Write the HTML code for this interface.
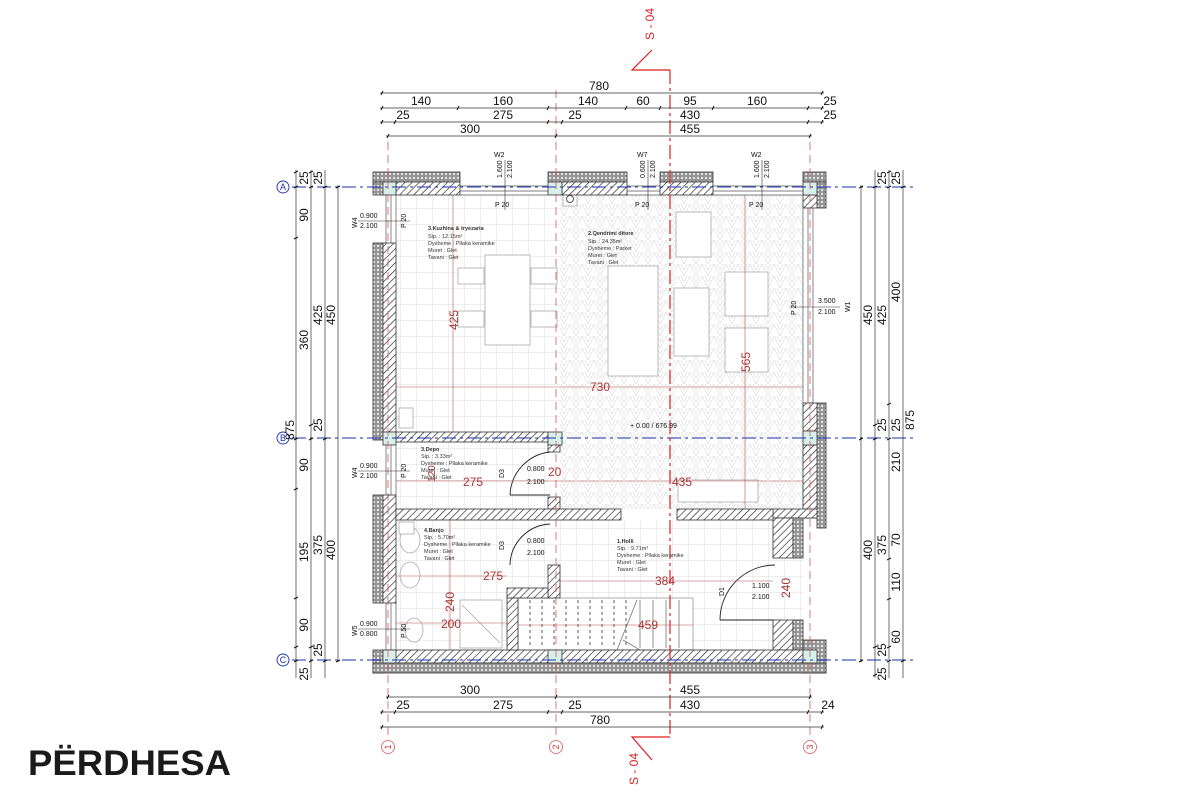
<!DOCTYPE html>
<html><head><meta charset="utf-8"><style>
html,body{margin:0;padding:0;background:#fff;}
svg{display:block;font-family:"Liberation Sans",sans-serif;}
</style></head><body>
<svg width="1200" height="800" viewBox="0 0 1200 800" xmlns="http://www.w3.org/2000/svg">
<defs>
<pattern id="hatch" width="5" height="5" patternUnits="userSpaceOnUse" patternTransform="rotate(45)">
<rect width="5" height="5" fill="#fff"/><line x1="0" y1="0" x2="0" y2="5" stroke="#222" stroke-width="1.3"/></pattern>
<pattern id="ins" width="4" height="4" patternUnits="userSpaceOnUse">
<rect width="4" height="4" fill="#959595"/><circle cx="2" cy="2" r="1.1" fill="#ececec"/></pattern>
<pattern id="tile" width="16" height="16" patternUnits="userSpaceOnUse">
<rect width="16" height="16" fill="#fff"/><path d="M0 0H16M0 0V16" stroke="#dcdcdc" stroke-width="1"/></pattern>
<pattern id="herr" width="12" height="12" patternUnits="userSpaceOnUse">
<rect width="12" height="12" fill="#fff"/><path d="M0 12L6 0L12 12M0 6L3 0M9 0L12 6" stroke="#e0e0e0" stroke-width="0.8" fill="none"/></pattern>
</defs>

<rect x="396" y="195" width="164" height="237" fill="url(#tile)"/>
<rect x="560" y="195" width="243" height="314" fill="url(#herr)"/>
<rect x="396" y="442" width="152" height="67" fill="url(#tile)"/>
<rect x="396" y="520" width="407" height="130" fill="url(#tile)"/>

<g fill="#fff" stroke="#aaa" stroke-width="0.8">
<rect x="485" y="255" width="45" height="90"/>
<rect x="458" y="268" width="26" height="16"/><rect x="458" y="311" width="26" height="16"/>
<rect x="531" y="268" width="26" height="16"/><rect x="531" y="311" width="26" height="16"/>
<rect x="608" y="266" width="50" height="110"/>
<rect x="676" y="212" width="35" height="45"/>
<rect x="674" y="288" width="35" height="68"/>
<rect x="725" y="272" width="43" height="44"/><rect x="725" y="328" width="43" height="44"/>
<rect x="678" y="480" width="80" height="22"/>
<rect x="460" y="600" width="42" height="48"/>
<ellipse cx="410" cy="540" rx="10" ry="13"/><ellipse cx="410" cy="575" rx="10" ry="13"/>
<ellipse cx="414" cy="630" rx="9" ry="12"/>
<rect x="399" y="408" width="14" height="20"/><rect x="399" y="522" width="15" height="12"/>
<rect x="563" y="192" width="14" height="14"/>
</g>
<circle cx="570" cy="199" r="3.5" fill="none" stroke="#555"/>
<line x1="462" y1="605" x2="500" y2="643" stroke="#aaa" stroke-width="0.8"/>

<rect x="518" y="598" width="175" height="52" fill="#fff" stroke="#999" stroke-width="0.8"/>
<g stroke="#333" stroke-width="0.8" stroke-dasharray="3,3">
<line x1="530" y1="600" x2="530" y2="648"/><line x1="542" y1="600" x2="542" y2="648"/><line x1="554" y1="600" x2="554" y2="648"/><line x1="566" y1="600" x2="566" y2="648"/><line x1="578" y1="600" x2="578" y2="648"/><line x1="590" y1="600" x2="590" y2="648"/><line x1="602" y1="600" x2="602" y2="648"/><line x1="614" y1="600" x2="614" y2="648"/><line x1="626" y1="600" x2="626" y2="648"/>
</g>
<g stroke="#777" stroke-width="0.8">
<line x1="640" y1="600" x2="640" y2="648"/><line x1="653" y1="600" x2="653" y2="648"/><line x1="666" y1="600" x2="666" y2="648"/><line x1="679" y1="600" x2="679" y2="648"/>
<line x1="637" y1="600" x2="617" y2="650"/><line x1="623" y1="640" x2="640" y2="650"/>
</g>

<g stroke="#333" stroke-width="0.8">
<rect x="373" y="172" width="87" height="10" fill="url(#ins)"/><rect x="548" y="172" width="79" height="10" fill="url(#ins)"/>
<rect x="660" y="172" width="53" height="10" fill="url(#ins)"/><rect x="803" y="172" width="23" height="10" fill="url(#ins)"/>
<rect x="396" y="182" width="64" height="13" fill="url(#hatch)"/><rect x="562" y="182" width="65" height="13" fill="url(#hatch)"/>
<rect x="660" y="182" width="53" height="13" fill="url(#hatch)"/>
<rect x="373" y="182" width="10" height="13" fill="url(#ins)"/>
<rect x="373" y="243" width="10" height="197" fill="url(#ins)"/><rect x="383" y="243" width="13" height="189" fill="url(#hatch)"/>
<rect x="373" y="495" width="10" height="108" fill="url(#ins)"/><rect x="383" y="495" width="13" height="108" fill="url(#hatch)"/>
<rect x="373" y="650" width="10" height="23" fill="url(#ins)"/>
<rect x="817" y="182" width="9" height="26" fill="url(#ins)"/><rect x="803" y="195" width="14" height="13" fill="url(#hatch)"/>
<rect x="817" y="403" width="9" height="125" fill="url(#ins)"/><rect x="803" y="403" width="14" height="28" fill="url(#hatch)"/>
<rect x="803" y="445" width="14" height="73" fill="url(#hatch)"/>
<rect x="773" y="509" width="44" height="9" fill="url(#hatch)"/>
<rect x="773" y="518" width="20" height="40" fill="url(#hatch)"/><rect x="793" y="518" width="10" height="40" fill="url(#ins)"/>
<rect x="773" y="620" width="20" height="30" fill="url(#hatch)"/><rect x="793" y="620" width="10" height="30" fill="url(#ins)"/>
<rect x="803" y="640" width="23" height="33" fill="url(#ins)"/>
<rect x="383" y="650" width="420" height="13" fill="url(#hatch)"/>
<rect x="373" y="663" width="453" height="10" fill="url(#ins)"/>
<rect x="396" y="432" width="152" height="10" fill="url(#hatch)"/>
<rect x="548" y="442" width="12" height="10" fill="url(#hatch)"/>
<rect x="548" y="497" width="12" height="12" fill="url(#hatch)"/>
<rect x="396" y="509" width="225" height="11" fill="url(#hatch)"/>
<rect x="677" y="509" width="96" height="11" fill="url(#hatch)"/>
<rect x="548" y="565" width="12" height="33" fill="url(#hatch)"/>
<rect x="507" y="588" width="41" height="10" fill="url(#hatch)"/>
<rect x="507" y="598" width="11" height="52" fill="url(#hatch)"/>
</g>
<g fill="#d8f0ec" stroke="#333" stroke-width="0.8">
<rect x="383" y="182" width="13" height="13"/><rect x="548" y="182" width="14" height="13"/><rect x="803" y="182" width="14" height="13"/>
<rect x="383" y="432" width="13" height="13"/><rect x="548" y="432" width="14" height="13"/><rect x="803" y="431" width="14" height="14"/>
<rect x="383" y="650" width="13" height="13"/><rect x="548" y="650" width="14" height="13"/><rect x="803" y="650" width="14" height="13"/>
</g>
<g stroke="#555" stroke-width="0.7">
<line x1="460" y1="186" x2="548" y2="186"/><line x1="460" y1="191" x2="548" y2="191"/><line x1="460" y1="195" x2="548" y2="195"/>
<line x1="627" y1="186" x2="660" y2="186"/><line x1="627" y1="191" x2="660" y2="191"/><line x1="627" y1="195" x2="660" y2="195"/>
<line x1="713" y1="186" x2="803" y2="186"/><line x1="713" y1="191" x2="803" y2="191"/><line x1="713" y1="195" x2="803" y2="195"/>
<line x1="386" y1="195" x2="386" y2="243"/><line x1="391" y1="195" x2="391" y2="243"/><line x1="396" y1="195" x2="396" y2="243"/>
<line x1="386" y1="445" x2="386" y2="495"/><line x1="391" y1="445" x2="391" y2="495"/><line x1="396" y1="445" x2="396" y2="495"/>
<line x1="386" y1="603" x2="386" y2="650"/><line x1="391" y1="603" x2="391" y2="650"/><line x1="396" y1="603" x2="396" y2="650"/>
<line x1="803" y1="208" x2="803" y2="403"/><line x1="808" y1="208" x2="808" y2="403"/><line x1="813" y1="208" x2="813" y2="403"/>
</g>
<g fill="none" stroke="#222" stroke-width="0.9">
<path d="M550 452 A45 45 0 0 0 510 495"/><line x1="510" y1="495" x2="550" y2="495"/>
<path d="M550 524 A42 42 0 0 0 510 565"/>
<path d="M775 565 A55 55 0 0 0 720 620"/><line x1="720" y1="620" x2="773" y2="620"/>
</g>

<g stroke="#b55" stroke-width="0.6">
<line x1="453" y1="195" x2="453" y2="432"/><line x1="396" y1="387" x2="803" y2="387"/><line x1="745" y1="195" x2="745" y2="509"/>
<line x1="396" y1="481" x2="560" y2="481"/><line x1="560" y1="481" x2="803" y2="481"/><line x1="396" y1="576" x2="507" y2="576"/>
<line x1="560" y1="581" x2="773" y2="581"/><line x1="450" y1="520" x2="450" y2="650"/><line x1="396" y1="623" x2="507" y2="623"/>
<line x1="518" y1="625" x2="693" y2="625"/>
</g>
<g fill="#a33" font-size="12">
<text x="458" y="330" transform="rotate(-90 458 330)">425</text>
<text x="590" y="391">730</text>
<text x="750" y="372" transform="rotate(-90 750 372)">565</text>
<text x="463" y="486">275</text><text x="672" y="486">435</text>
<text x="483" y="580">275</text><text x="655" y="585">384</text>
<text x="454" y="612" transform="rotate(-90 454 612)">240</text>
<text x="441" y="628">200</text><text x="638" y="629">459</text>
<text x="790" y="598" transform="rotate(-90 790 598)">240</text>
<text x="435" y="482" transform="rotate(-90 435 482)" font-size="10">120</text>
<text x="548" y="476">20</text>
</g>

<g stroke="#1a2fb0" stroke-width="1" stroke-dasharray="14,4,3,4">
<line x1="292" y1="187" x2="915" y2="187"/><line x1="292" y1="438" x2="915" y2="438"/><line x1="292" y1="660" x2="915" y2="660"/>
</g>
<g stroke="#d55" stroke-width="0.8" stroke-dasharray="8,5">
<line x1="388" y1="142" x2="388" y2="735"/><line x1="556" y1="90" x2="556" y2="735"/><line x1="810" y1="142" x2="810" y2="735"/>
</g>
<line x1="670" y1="70" x2="670" y2="736" stroke="#d22" stroke-width="1.2" stroke-dasharray="14,4,3,4"/>
<path d="M652 50 L632 70 L670 70" fill="none" stroke="#d22" stroke-width="1.2"/>
<path d="M652 760 L632 737 L670 737" fill="none" stroke="#d22" stroke-width="1.2"/>
<text x="654" y="40" transform="rotate(-90 654 40)" fill="#d22" font-size="12">S - 04</text>
<text x="638" y="785" transform="rotate(-90 638 785)" fill="#d22" font-size="12">S - 04</text>
<g fill="#fff" stroke="#d55" stroke-width="0.8">
<circle cx="388" cy="747" r="6.5"/><circle cx="556" cy="747" r="6.5"/><circle cx="810" cy="747" r="6.5"/></g>
<g fill="#c33" font-size="9" text-anchor="middle">
<text x="388" y="750" transform="rotate(-90 388 747)">1</text><text x="556" y="750" transform="rotate(-90 556 747)">2</text><text x="810" y="750" transform="rotate(-90 810 747)">3</text></g>
<g fill="#fff" stroke="#1a2fb0" stroke-width="0.9">
<circle cx="283" cy="187" r="6"/><circle cx="283" cy="438" r="6"/><circle cx="283" cy="660" r="6"/></g>
<g fill="#1a2fb0" font-size="9" text-anchor="middle">
<text x="283" y="190">A</text><text x="283" y="441">B</text><text x="283" y="663">C</text></g>

<g stroke="#333" stroke-width="0.7">
<line x1="380" y1="93" x2="824" y2="93"/><line x1="380" y1="108" x2="824" y2="108"/>
<line x1="380" y1="122" x2="824" y2="122"/><line x1="386" y1="136" x2="812" y2="136"/>
<line x1="380" y1="712" x2="824" y2="712"/><line x1="380" y1="727" x2="824" y2="727"/><line x1="386" y1="697" x2="812" y2="697"/>
<line x1="296" y1="170" x2="296" y2="678"/><line x1="311" y1="170" x2="311" y2="678"/><line x1="325" y1="170" x2="325" y2="678"/><line x1="338" y1="185" x2="338" y2="662"/>
<line x1="861" y1="185" x2="861" y2="662"/><line x1="875" y1="170" x2="875" y2="678"/><line x1="889" y1="170" x2="889" y2="678"/><line x1="903" y1="170" x2="903" y2="678"/>
</g>
<g stroke="#111" stroke-width="1">
<path d="M381 95l2-4M821 95l2-4M381 110l2-4M457 110l2-4M547 110l2-4M625 110l2-4M659 110l2-4M712 110l2-4M807 110l2-4M821 110l2-4M381 124l2-4M394 124l2-4M547 124l2-4M561 124l2-4M807 124l2-4M821 124l2-4M387 138l2-4M555 138l2-4M809 138l2-4"/>
<path d="M387 699l2-4M555 699l2-4M809 699l2-4M381 714l2-4M394 714l2-4M547 714l2-4M561 714l2-4M807 714l2-4M821 714l2-4M381 729l2-4M821 729l2-4"/>
<path d="M294 173l4-2M294 188l4-2M294 239l4-2M294 440l4-2M294 490l4-2M294 599l4-2M294 648l4-2M294 662l4-2M309 173l4-2M309 188l4-2M309 426l4-2M309 440l4-2M309 648l4-2M309 662l4-2M323 188l4-2M323 440l4-2M323 662l4-2M336 188l4-2M336 662l4-2"/>
<path d="M859 188l4-2M859 440l4-2M859 662l4-2M873 188l4-2M873 426l4-2M873 440l4-2M873 648l4-2M873 676l4-2M887 173l4-2M887 188l4-2M887 405l4-2M887 440l4-2M887 560l4-2M887 600l4-2M887 648l4-2M887 662l4-2M901 188l4-2M901 662l4-2"/>
</g>
<g fill="#111" font-size="12" text-anchor="middle">
<text x="599" y="90">780</text>
<text x="421" y="105">140</text><text x="503" y="105">160</text><text x="588" y="105">140</text><text x="643" y="105">60</text><text x="690" y="105">95</text><text x="757" y="105">160</text><text x="830" y="105">25</text>
<text x="403" y="119">25</text><text x="503" y="119">275</text><text x="575" y="119">25</text><text x="690" y="119">430</text><text x="830" y="119">25</text>
<text x="470" y="133">300</text><text x="690" y="133">455</text>
<text x="470" y="694">300</text><text x="690" y="694">455</text>
<text x="403" y="709">25</text><text x="503" y="709">275</text><text x="575" y="709">25</text><text x="690" y="709">430</text><text x="828" y="709">24</text>
<text x="600" y="724">780</text>
</g>
<g fill="#111" font-size="12" text-anchor="middle">
<text transform="translate(308 178) rotate(-90)">25</text><text transform="translate(308 215) rotate(-90)">90</text>
<text transform="translate(308 340) rotate(-90)">360</text><text transform="translate(308 465) rotate(-90)">90</text>
<text transform="translate(308 552) rotate(-90)">195</text><text transform="translate(308 625) rotate(-90)">90</text>
<text transform="translate(308 674) rotate(-90)">25</text><text transform="translate(294 430) rotate(-90)">875</text>
<text transform="translate(322 178) rotate(-90)">25</text><text transform="translate(322 315) rotate(-90)">425</text>
<text transform="translate(322 425) rotate(-90)">25</text><text transform="translate(322 545) rotate(-90)">375</text>
<text transform="translate(322 650) rotate(-90)">25</text>
<text transform="translate(335 315) rotate(-90)">450</text><text transform="translate(335 550) rotate(-90)">400</text>
<text transform="translate(872 315) rotate(-90)">450</text><text transform="translate(872 550) rotate(-90)">400</text>
<text transform="translate(886 178) rotate(-90)">25</text><text transform="translate(886 315) rotate(-90)">425</text>
<text transform="translate(886 425) rotate(-90)">25</text><text transform="translate(886 545) rotate(-90)">375</text>
<text transform="translate(886 650) rotate(-90)">25</text><text transform="translate(886 674) rotate(-90)">25</text>
<text transform="translate(900 178) rotate(-90)">25</text><text transform="translate(900 292) rotate(-90)">400</text>
<text transform="translate(900 425) rotate(-90)">25</text><text transform="translate(900 462) rotate(-90)">210</text>
<text transform="translate(900 540) rotate(-90)">70</text><text transform="translate(900 582) rotate(-90)">110</text>
<text transform="translate(900 637) rotate(-90)">60</text>
<text transform="translate(914 420) rotate(-90)">875</text>
</g>

<g fill="#111" font-size="7">
<text x="494" y="157">W2</text><text x="637" y="157">W7</text><text x="751" y="157">W2</text>
<text transform="translate(502 178) rotate(-90)">1.600</text><text transform="translate(512 178) rotate(-90)">2.100</text>
<text transform="translate(645 178) rotate(-90)">0.600</text><text transform="translate(655 178) rotate(-90)">2.100</text>
<text transform="translate(759 178) rotate(-90)">1.600</text><text transform="translate(769 178) rotate(-90)">2.100</text>
<text x="495" y="207">P 20</text><text x="635" y="207">P 20</text><text x="749" y="207">P 20</text>
<text transform="translate(406 228) rotate(-90)">P 20</text><text transform="translate(406 478) rotate(-90)">P 20</text><text transform="translate(406 638) rotate(-90)">P 50</text>
<text transform="translate(796 315) rotate(-90)">P 20</text>
<text x="360" y="218">0.900</text><text x="360" y="228">2.100</text><text transform="translate(357 228) rotate(-90)">W4</text>
<text x="360" y="468">0.900</text><text x="360" y="478">2.100</text><text transform="translate(357 478) rotate(-90)">W4</text>
<text x="360" y="626">0.900</text><text x="360" y="636">0.800</text><text transform="translate(357 636) rotate(-90)">W5</text>
<text x="818" y="303">3.500</text><text x="818" y="314">2.100</text><text transform="translate(850 312) rotate(-90)">W1</text>
<text x="527" y="471">0.800</text><text x="527" y="484">2.100</text><text transform="translate(504 478) rotate(-90)">D3</text>
<text x="527" y="543">0.800</text><text x="527" y="555">2.100</text><text transform="translate(504 550) rotate(-90)">D3</text>
<text x="752" y="588">1.100</text><text x="752" y="599">2.100</text><text transform="translate(724 596) rotate(-90)">D1</text>
<text x="630" y="428">+ 0.00 / 676.99</text>
</g>
<g stroke="#333" stroke-width="0.6">
<line x1="505" y1="160" x2="505" y2="210"/><line x1="648" y1="160" x2="648" y2="210"/><line x1="762" y1="160" x2="762" y2="210"/>
<line x1="358" y1="221" x2="410" y2="221"/><line x1="358" y1="471" x2="410" y2="471"/><line x1="358" y1="629" x2="410" y2="629"/>
<line x1="790" y1="307" x2="840" y2="307"/>
</g>
<g fill="#333" font-size="5.5">
<text x="428" y="230" font-weight="bold">3.Kuzhina &amp; tryezaria</text><text x="428" y="238">Sip. : 12.15m²</text><text x="428" y="245">Dysheme : Pllaka keramike</text><text x="428" y="252">Muret : Glet</text><text x="428" y="259">Tavani : Glet</text>
<text x="588" y="235" font-weight="bold">2.Qendrimi ditore</text><text x="588" y="243">Sip. : 24.35m²</text><text x="588" y="250">Dysheme : Parket</text><text x="588" y="257">Muret : Glet</text><text x="588" y="264">Tavani : Glet</text>
<text x="421" y="451" font-weight="bold">3.Depo</text><text x="421" y="458">Sip. : 3.33m²</text><text x="421" y="465">Dysheme : Pllaka keramike</text><text x="421" y="472">Muret : Glet</text><text x="421" y="479">Tavani : Glet</text>
<text x="424" y="532" font-weight="bold">4.Banjo</text><text x="424" y="539">Sip. : 5.70m²</text><text x="424" y="546">Dysheme : Pllaka keramike</text><text x="424" y="553">Muret : Glet</text><text x="424" y="560">Tavani : Glet</text>
<text x="617" y="543" font-weight="bold">1.Holli</text><text x="617" y="550">Sip. : 9.71m²</text><text x="617" y="557">Dysheme : Pllaka keramike</text><text x="617" y="564">Muret : Glet</text><text x="617" y="571">Tavani : Glet</text>
</g>

<text x="28" y="775" font-size="35" font-weight="bold" fill="#1a1a1a" textLength="203" lengthAdjust="spacingAndGlyphs">PËRDHESA</text>
</svg>
</body></html>
